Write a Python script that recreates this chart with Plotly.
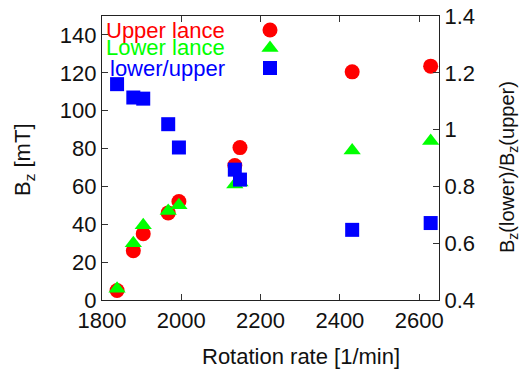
import plotly.graph_objects as go

# Data
rate = [1838, 1879, 1904, 1967, 1994, 2135, 2148, 2431, 2629]
upper = [5, 26, 35, 46, 52, 71, 80.5, 120.5, 123.5]
lower = [6, 30, 39.5, 47, 50, 61, 62, 79, 84]
ratio = [1.16, 1.113, 1.109, 1.019, 0.937, 0.859, 0.824, 0.647, 0.671]

names = ["Upper lance", "Lower lance", "lower/upper"]
colors = ["#ff0000", "#00ff00", "#0000ff"]
symbols = ["circle", "triangle-up", "square"]

FONT = "Liberation Sans, Arial, sans-serif"
FS = 22

L, R, T, B = 102, 439, 16, 300
PW, PH = R - L, B - T

fig = go.Figure()
fig.add_trace(go.Scatter(x=rate, y=upper, mode="markers", name=names[0],
                         marker=dict(symbol=symbols[0], size=15, color=colors[0]),
                         xaxis="x", yaxis="y"))
fig.add_trace(go.Scatter(x=rate, y=lower, mode="markers", name=names[1],
                         marker=dict(symbol=symbols[1], size=15, color=colors[1]),
                         xaxis="x", yaxis="y"))
fig.add_trace(go.Scatter(x=rate, y=ratio, mode="markers", name=names[2],
                         marker=dict(symbol=symbols[2], size=14, color=colors[2]),
                         xaxis="x", yaxis="y2"))

# gnuplot-style key: text right-aligned, sample symbol to the right
key_py = [30, 48, 68]
key_sym_px = 270
key_text_px = 227
for i in range(3):
    ky = (B - key_py[i]) / PH
    fig.add_trace(go.Scatter(x=[(key_sym_px - L) / PW], y=[ky], mode="markers",
                             marker=dict(symbol=symbols[i], size=15 if i < 2 else 14, color=colors[i]),
                             xaxis="x3", yaxis="y3", showlegend=False, hoverinfo="skip"))
    fig.add_annotation(x=(key_text_px - L) / PW, y=ky, xref="paper", yref="paper",
                       text=names[i], showarrow=False, xanchor="right", yanchor="middle",
                       font=dict(family=FONT, size=FS, color=colors[i]))

axis_common = dict(showline=True, linecolor="#222222", linewidth=1.2, showgrid=False,
                   zeroline=False, ticks="inside", ticklen=6, tickcolor="#333333",
                   automargin=False,
                   tickfont=dict(family=FONT, size=FS, color="#111111"))

fig.update_layout(
    width=528, height=370,
    margin=dict(l=L, r=528 - R, t=T, b=370 - B, autoexpand=False),
    paper_bgcolor="white", plot_bgcolor="white",
    showlegend=False,
    xaxis=dict(range=[1800, 2650], tickvals=[1800, 2000, 2200, 2400, 2600],
               mirror="ticks", **axis_common),
    yaxis=dict(range=[0, 150], tickvals=[0, 20, 40, 60, 80, 100, 120, 140], **axis_common),
    yaxis2=dict(range=[0.4, 1.4], tickvals=[0.4, 0.6, 0.8, 1.0, 1.2, 1.4],
                ticktext=["0.4", "0.6", "0.8", "1", "1.2", "1.4"],
                overlaying="y", side="right", **axis_common),
    xaxis3=dict(range=[0, 1], overlaying="x", visible=False),
    yaxis3=dict(range=[0, 1], overlaying="y", visible=False),
    font=dict(family=FONT, size=FS, color="#111111"),
)

# Axis titles
fig.add_annotation(x=(301 - L) / PW, y=-(356.5 - B) / PH, xref="paper", yref="paper",
                   text="Rotation rate [1/min]", showarrow=False, xanchor="center", yanchor="middle",
                   font=dict(family=FONT, size=FS, color="#111111"))
fig.add_annotation(x=-(L - 24) / PW, y=(B - 160) / PH, xref="paper", yref="paper",
                   text="B<sub>z</sub> [mT]", showarrow=False, textangle=-90,
                   xanchor="center", yanchor="middle",
                   font=dict(family=FONT, size=FS, color="#111111"))
fig.add_annotation(x=(508 - L) / PW, y=(B - 167) / PH, xref="paper", yref="paper",
                   text="B<sub>z</sub>(lower)/B<sub>z</sub>(upper)", showarrow=False, textangle=-90,
                   xanchor="center", yanchor="middle",
                   font=dict(family=FONT, size=20, color="#111111"))

fig.write_html("out.html", config={"displayModeBar": False},
               post_script="document.body.style.margin='0';document.body.style.padding='0';")
